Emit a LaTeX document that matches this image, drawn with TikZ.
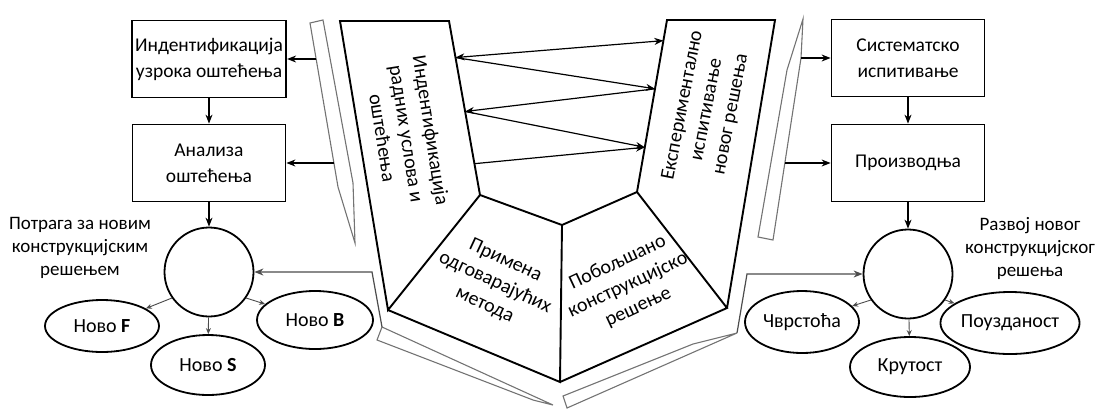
\documentclass[tikz,border=0pt]{standalone}
\usepackage{fontspec}
\setmainfont{Carlito}
\usetikzlibrary{arrows.meta,shapes.geometric,calc}

\begin{document}
\begin{tikzpicture}[x=1pt,y=-1pt,
    kutija/.style={draw,line width=1.8pt,minimum width=153pt,minimum height=77pt,align=center,font=\fontsize{19.5}{26}\selectfont},
    krug/.style={draw,circle,line width=1.8pt,minimum size=89pt},
    elipsa/.style={draw,ellipse,line width=1.8pt,inner sep=0pt,font=\fontsize{20}{22}\selectfont},
    natpis/.style={align=center,font=\fontsize{19}{23}\selectfont},
    ptekst/.style={align=center,inner sep=0pt,font=\fontsize{20}{24.5}\selectfont},
    ploca/.style={line width=1.9pt,line join=miter},
    traka/.style={draw=black!55,line width=1.1pt},
    strelica/.style={-{Stealth[length=9pt,width=7pt]},line width=1.2pt},
    dvostruka/.style={{Stealth[length=9pt,width=7pt]}-{Stealth[length=9pt,width=7pt]},line width=1.2pt},
    mala/.style={-{Stealth[length=6pt,width=5pt]},line width=0.9pt,draw=black!70}
  ]
  \useasboundingbox (0,0) rectangle (1102,410);

  % lijeva strana
  \node[kutija] (idc) at (209,59) {Индентификација\\узрока оштећења};
  \node[kutija] (anl) at (209,163) {Анализа\\оштећења};
  \node[krug] (krugL) at (209,272) {};
  \node[natpis] (potraga) at (80,248) {Потрага за новим\\конструкцијским\\решењем};
  \node[elipsa,minimum width=114pt,minimum height=52pt] (noviF) at (102,326) {Ново \textbf{F}};
  \node[elipsa,minimum width=114pt,minimum height=60pt] (noviS) at (208,365) {Ново \textbf{S}};
  \node[elipsa,minimum width=116pt,minimum height=58pt] (noviB) at (315,320) {Ново \textbf{B}};

  % desna strana
  \node[kutija] (sis) at (908,58) {Систематско\\испитивање};
  \node[kutija] (pro) at (908,163) {Производња};
  \node[krug] (krugR) at (908,274) {};
  \node[natpis] (razvoj) at (1030,248) {Развој новог\\конструкцијског\\решења};
  \node[elipsa,minimum width=114pt,minimum height=62pt] (cvr) at (802,322) {Чврстоћа};
  \node[elipsa,minimum width=120pt,minimum height=60pt] (kru) at (910,367) {Крутост};
  \node[elipsa,minimum width=108pt,minimum height=62pt] (pou) at (1010,323) {Поузданост};

  % ploce u sredini
  \coordinate (lA) at (340,21);
  \coordinate (lB) at (449,21);
  \coordinate (lC) at (480,195);
  \coordinate (lD) at (388,310);
  \coordinate (mB) at (562,225);
  \coordinate (mD) at (560,382);
  \coordinate (rA) at (667,20);
  \coordinate (rB) at (775,20);
  \coordinate (rC) at (727,308);
  \coordinate (rD) at (637,192);
  \draw[ploca] (lA) -- (lB) -- (lC) -- (lD) -- cycle;
  \draw[ploca] (lC) -- (mB) -- (mD) -- (lD);
  \draw[ploca] (mB) -- (rD);
  \draw[ploca] (mD) -- (rC) -- (rD) -- (rA) -- (rB) -- (rC);

  \node[ptekst,rotate=-81] (tL) at (407,134) {Индентификација\\радних услова и\\оштећења};
  \node[ptekst,rotate=79] (tR) at (707,110) {Експериментално\\испитивање\\новог решења};
  \node[ptekst,rotate=-25] (tM1) at (495,283) {Примена\\одговарајућих\\метода};
  \node[ptekst,rotate=25] (tM2) at (628,285) {Побољшано\\конструкцијско\\решење};

  % strelice izmedju ploca
  \coordinate (a1) at ($(lB)!0.21!(lC)$);
  \coordinate (a2) at ($(lB)!0.52!(lC)$);
  \coordinate (a3) at ($(lB)!0.82!(lC)$);
  \coordinate (b1) at ($(rA)!0.12!(rD)$);
  \coordinate (b2) at ($(rA)!0.40!(rD)$);
  \coordinate (b3) at ($(rA)!0.74!(rD)$);
  \draw[dvostruka] (a1) -- (b1);
  \draw[strelica] (a1) -- (b2);
  \draw[strelica] (b2) -- (a2);
  \draw[strelica] (a2) -- (b3);
  \draw[strelica] (a3) -- (b3);

  % trake
  \draw[traka] (310,23) -- (323,20) -- (353,183) -- (355,243) -- (338,187) -- cycle;
  \draw[traka] (803,19) -- (801,58) -- (773,240) -- (758,237) -- (787,70) -- cycle;
  \draw[traka] (382,327) -- (553,405) -- (533,400) -- (377,340) -- cycle;
  \draw[traka] (563,396) -- (693,344) -- (737,333) -- (567,408) -- cycle;
  \coordinate (sL1) at (316,59);
  \coordinate (sL2) at (334,163);
  \coordinate (sR1) at (801,58);
  \coordinate (sR2) at (785,163);
  \coordinate (sB1) at (382,327);
  \coordinate (sB2) at (737,333);
  \coordinate (kL) at (372,272);
  \coordinate (kR) at (747,274);

  % veze
  \draw[strelica] (idc) -- (anl);
  \draw[strelica] (anl) -- (krugL);
  \draw[strelica] (sis) -- (pro);
  \draw[strelica] (pro) -- (krugR);
  \draw[strelica] (sL1) -- (idc);
  \draw[strelica] (sL2) -- (anl);
  \draw[strelica] (sR1) -- (sis);
  \draw[strelica] (sR2) -- (pro);
  \draw[strelica,draw=black!70] (sB1) -- (kL) -- (krugL);
  \draw[strelica,draw=black!70] (sB2) -- (kR) -- (krugR);

  % krug prema elipsama
  \draw[mala] (krugL.215) -- (noviF);
  \draw[mala] (krugL) -- (noviS);
  \draw[mala] (krugL.325) -- (noviB);
  \draw[mala] (krugR.215) -- (cvr);
  \draw[mala] (krugR) -- (kru);
  \draw[mala] (krugR.325) -- (pou);
\end{tikzpicture}
\end{document}
